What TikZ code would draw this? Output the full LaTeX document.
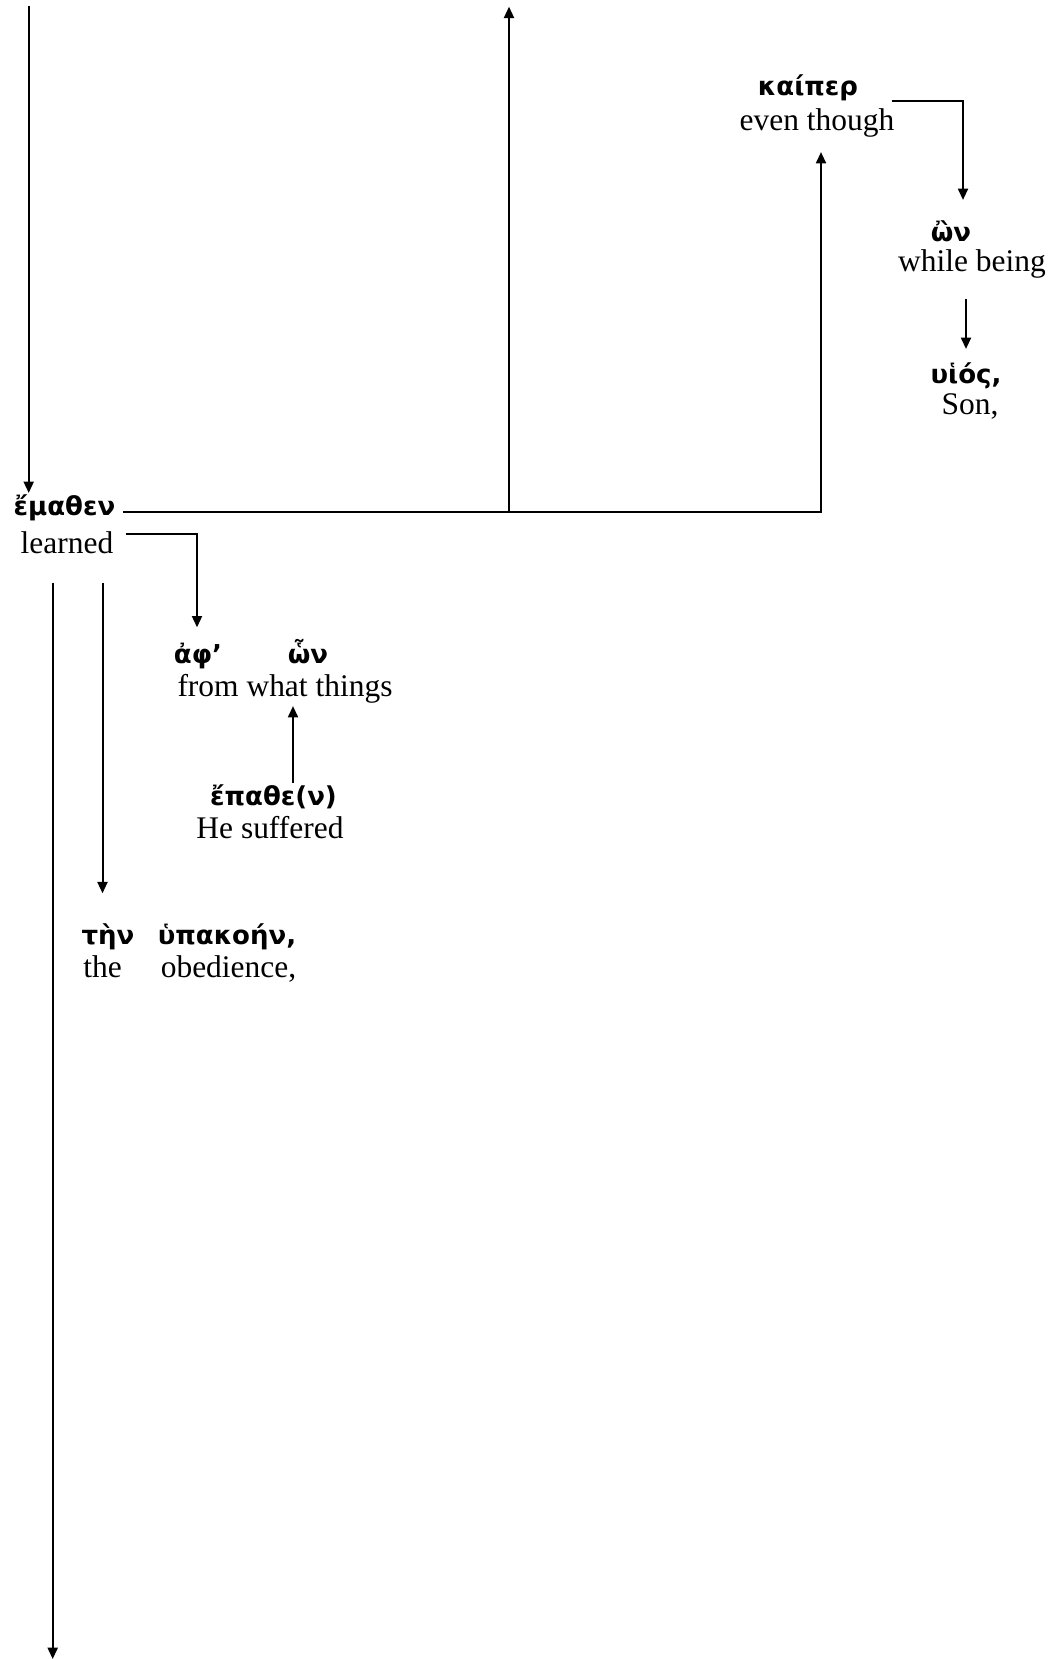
\documentclass[tikz,border=0pt]{standalone}
\usepackage{fontspec}
\setmainfont{Liberation Serif}
\newfontfamily\grkfont{DejaVu Sans}
\usetikzlibrary{arrows.meta,calc}

\begin{document}
\begin{tikzpicture}[x=0.75pt,y=0.75pt,yscale=-1,xscale=1,
  grk/.style={font=\grkfont\bfseries\fontsize{19.5}{23}\selectfont, inner sep=0.75pt, anchor=base},
  eng/.style={font=\fontsize{23.6}{28}\selectfont, inner sep=0.75pt, anchor=base},
  link/.style={line width=1.5pt},
  arr/.style={link, -{Triangle[length=8.5pt,width=7.5pt]}}]
\useasboundingbox (0,0) rectangle (1057,1659);

% Text Node
\draw (64.5,515) node [grk] (emathen) {ἔμαθεν};
% Text Node
\draw (67,553) node [eng] (learned) {learned};
% Text Node
\draw (808,95) node [grk] (kaiper) {καίπερ};
% Text Node
\draw (817,130) node [eng] (eventhough) {even though};
% Text Node
\draw (951,241) node [grk] (on) {ὢν};
% Text Node
\draw (972,271) node [eng] (whilebeing) {while being};
% Text Node
\draw (966,383) node [grk] (huios) {υἱός,};
% Text Node
\draw (970,414) node [eng] (son) {Son,};
% Text Node
\draw (198,663) node [grk] (aph) {ἀφ’};
% Text Node
\draw (308,663) node [grk] (hon) {ὧν};
% Text Node
\draw (285,696) node [eng] (fromwhat) {from what things};
% Text Node
\draw (273.5,805) node [grk] (epathe) {ἔπαθε(ν)};
% Text Node
\draw (270,838) node [eng] (suffered) {He suffered};
% Text Node
\draw (108,944) node [grk] (ten) {τὴν};
% Text Node
\draw (227,944) node [grk] (hupakoen) {ὑπακοήν,};
% Text Node
\draw (102.5,977) node [eng] (the) {the};
% Text Node
\draw (228.5,977) node [eng] (obedience) {obedience,};

% free ends
\coordinate (topL) at (28.7,5.7);
\coordinate (topM) at (509,6.7);
\coordinate (botL) at (52.7,1659);
\coordinate (hstart) at ($(emathen.east)+(6,5)$);
\coordinate (lstart) at ($(learned.north east)+(11,4)$);
\coordinate (estart) at ($(eventhough.north east)+(-4,-6)$);
\coordinate (ep) at ($(epathe.north)+(19.5,0)$);

%Straight Lines
\draw [arr] (topL) -- (topL |- emathen.north);
%Elbow Lines
\draw [arr] (hstart) -| ($(eventhough.south)+(4,14)$);
%Straight Lines
\draw [arr] (hstart -| topM) -- (topM);
%Elbow Lines
\draw [arr] (lstart) -| ($(aph.north)+(-1,-14)$);
%Straight Lines
\draw [arr] (ep) -- ($(ep |- fromwhat.south)+(0,2)$);
%Straight Lines
\draw [arr, shorten <=21pt] (botL |- learned.south) -- (botL);
%Straight Lines
\draw [arr, shorten <=21pt, shorten >=21.5pt] (learned.south -| the.north) -- (the.north |- ten.north);
%Elbow Lines
\draw [arr] (estart) -| ($(on.north)+(12,-19)$);
%Straight Lines
\draw [arr, shorten <=15pt] (huios.north |- whilebeing.south) -- ($(huios.north)+(0,-12)$);

\end{tikzpicture}
\end{document}
